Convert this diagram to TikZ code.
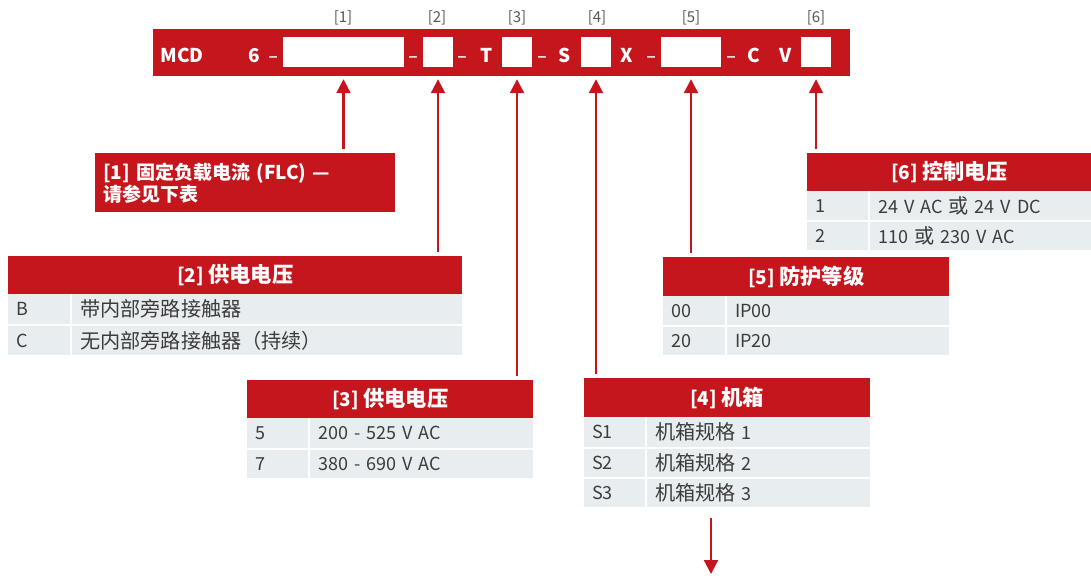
\documentclass[tikz,border=0pt]{standalone}
\usepackage{fontspec}
\setmainfont{Noto Sans CJK SC}
\newfontfamily\zh{Noto Sans CJK SC}[Scale=1.12]
\newfontfamily\lat{Open Sans}
\usetikzlibrary{arrows.meta}
\definecolor{mred}{HTML}{C4161C}
\definecolor{rowbg}{HTML}{E8EDF0}
\definecolor{txt}{HTML}{3C3C3C}
\definecolor{lblc}{HTML}{555555}
\begin{document}
\begin{tikzpicture}[x=1pt,y=-1pt,
  barbox/.style={fill=mred,draw=none,inner sep=0,minimum height=47pt,minimum width=697pt},
  wbox/.style={fill=white,draw=none,inner sep=0,minimum height=30pt},
  bartxt/.style={text=white,font=\fontsize{19}{22}\selectfont\bfseries,inner sep=0,anchor=base},
  bardash/.style={text=white,font=\fontsize{19}{22}\selectfont\lat,inner sep=0,anchor=base},
  lbl/.style={text=lblc,font=\fontsize{15}{18}\selectfont,inner sep=0},
  hdr/.style={fill=mred,text=white,font=\fontsize{19}{21}\selectfont\bfseries,inner sep=0,anchor=north west},
  cell/.style={fill=rowbg,text=txt,font=\fontsize{18}{20}\selectfont,inner xsep=8pt,inner ysep=0,anchor=north west,align=left},
  arr/.style={draw=mred,line width=2.2pt,-{Triangle[width=14pt,length=14pt]}}
]
\useasboundingbox (0,0) rectangle (1091,575);
% top bar
\node[barbox] (bar) at (501.5,52.5) {};
\node[wbox,minimum width=121pt] (b1) at (343.5,52) {};
\node[wbox,minimum width=30pt] (b2) at (438,52) {};
\node[wbox,minimum width=30pt] (b3) at (517,52) {};
\node[wbox,minimum width=30pt] (b4) at (596,52) {};
\node[wbox,minimum width=60pt] (b5) at (691,52) {};
\node[wbox,minimum width=30pt] (b6) at (816,52) {};
\node[bartxt] (tmcd) at (182,62.5) {MCD};
\node[bartxt] (t6) at (254,62.5) {6};
\node[bardash] (d1) at (273,62.5) {–};
\node[bardash] (d2) at (413,62.5) {–};
\node[bardash] (d3) at (462,62.5) {–};
\node[bartxt] (tT) at (487,62.5) {T};
\node[bardash] (d4) at (542,62.5) {–};
\node[bartxt] (tS) at (565,62.5) {S};
\node[bartxt] (tX) at (627,62.5) {X};
\node[bardash] (d5) at (651,62.5) {–};
\node[bardash] (d6) at (731,62.5) {–};
\node[bartxt] (tC) at (754,62.5) {C};
\node[bartxt] (tV) at (786,62.5) {V};
% labels above
\node[lbl] (l1) at (343,18) {[1]};
\node[lbl] (l2) at (437,18) {[2]};
\node[lbl] (l3) at (517,18) {[3]};
\node[lbl] (l4) at (597,18) {[4]};
\node[lbl] (l5) at (691,18) {[5]};
\node[lbl] (l6) at (816,18) {[6]};
% [1] box
\node[fill=mred,text=white,anchor=north west,minimum width=300pt,minimum height=59pt,inner xsep=8pt,inner ysep=0,text width=284pt,align=left,font=\fontsize{19}{22}\selectfont\bfseries] (n1) at (95,153) {[1] 固定负载电流 (FLC) —\\请参见下表};
% [2] table
\node[hdr,minimum width=454pt,minimum height=38pt] (h2) at (8,256) {[2] {\zh 供电电压}};
\node[cell,minimum width=62pt,minimum height=30pt,text width=46pt] (r2a1) at (8,294) {B};
\node[cell,minimum width=390pt,minimum height=30pt,text width=374pt] (r2a2) at (72,294) {\zh 带内部旁路接触器};
\node[cell,minimum width=62pt,minimum height=29pt,text width=46pt] (r2b1) at (8,326) {C};
\node[cell,minimum width=390pt,minimum height=29pt,text width=374pt] (r2b2) at (72,326) {\zh 无内部旁路接触器（持续）};
% [3] table
\node[hdr,minimum width=286pt,minimum height=38pt] (h3) at (247,380) {[3] {\zh 供电电压}};
\node[cell,minimum width=61pt,minimum height=30pt,text width=45pt] (r3a1) at (247,418) {5};
\node[cell,minimum width=223pt,minimum height=30pt,text width=207pt] (r3a2) at (310,418) {200 - 525 V AC};
\node[cell,minimum width=61pt,minimum height=28pt,text width=45pt] (r3b1) at (247,450) {7};
\node[cell,minimum width=223pt,minimum height=28pt,text width=207pt] (r3b2) at (310,450) {380 - 690 V AC};
% [4] table
\node[hdr,minimum width=286pt,minimum height=39pt] (h4) at (584,378) {[4] {\zh 机箱}};
\node[cell,minimum width=61pt,minimum height=30pt,text width=45pt] (r4a1) at (584,417) {S1};
\node[cell,minimum width=223pt,minimum height=30pt,text width=207pt] (r4a2) at (647,417) {{\zh 机箱规格} 1};
\node[cell,minimum width=61pt,minimum height=28pt,text width=45pt] (r4b1) at (584,449) {S2};
\node[cell,minimum width=223pt,minimum height=28pt,text width=207pt] (r4b2) at (647,449) {{\zh 机箱规格} 2};
\node[cell,minimum width=61pt,minimum height=28pt,text width=45pt] (r4c1) at (584,479) {S3};
\node[cell,minimum width=223pt,minimum height=28pt,text width=207pt] (r4c2) at (647,479) {{\zh 机箱规格} 3};
% [5] table
\node[hdr,minimum width=286pt,minimum height=39pt] (h5) at (663,257) {[5] {\zh 防护等级}};
\node[cell,minimum width=62pt,minimum height=29pt,text width=46pt] (r5a1) at (663,296) {00};
\node[cell,minimum width=222pt,minimum height=29pt,text width=206pt] (r5a2) at (727,296) {IP00};
\node[cell,minimum width=62pt,minimum height=28pt,text width=46pt] (r5b1) at (663,327) {20};
\node[cell,minimum width=222pt,minimum height=28pt,text width=206pt] (r5b2) at (727,327) {IP20};
% [6] table
\node[hdr,minimum width=284pt,minimum height=38pt] (h6) at (807,153) {[6] {\zh 控制电压}};
\node[cell,minimum width=61pt,minimum height=29pt,text width=45pt] (r6a1) at (807,191) {1};
\node[cell,minimum width=221pt,minimum height=29pt,text width=205pt] (r6a2) at (870,191) {24 V AC {\zh 或} 24 V DC};
\node[cell,minimum width=61pt,minimum height=28pt,text width=45pt] (r6b1) at (807,222) {2};
\node[cell,minimum width=221pt,minimum height=28pt,text width=205pt] (r6b2) at (870,222) {110 {\zh 或} 230 V AC};
% arrows
\draw[arr,shorten <=4pt,shorten >=3pt] (n1.north -| b1) -- (b1 |- bar.south);
\draw[arr,shorten <=4pt,shorten >=3pt] (h2.north -| b2) -- (b2 |- bar.south);
\draw[arr,shorten <=4pt,shorten >=3pt] (h3.north -| b3) -- (b3 |- bar.south);
\draw[arr,shorten <=4pt,shorten >=3pt] (h4.north -| b4) -- (b4 |- bar.south);
\draw[arr,shorten <=4pt,shorten >=3pt] (h5.north -| b5) -- (b5 |- bar.south);
\draw[arr,shorten <=4pt,shorten >=3pt] (h6.north -| b6) -- (b6 |- bar.south);
\coordinate (c1) at (711,518);
\coordinate (c2) at (711,574);
\draw[arr] (c1) -- (c2);
\end{tikzpicture}
\end{document}
